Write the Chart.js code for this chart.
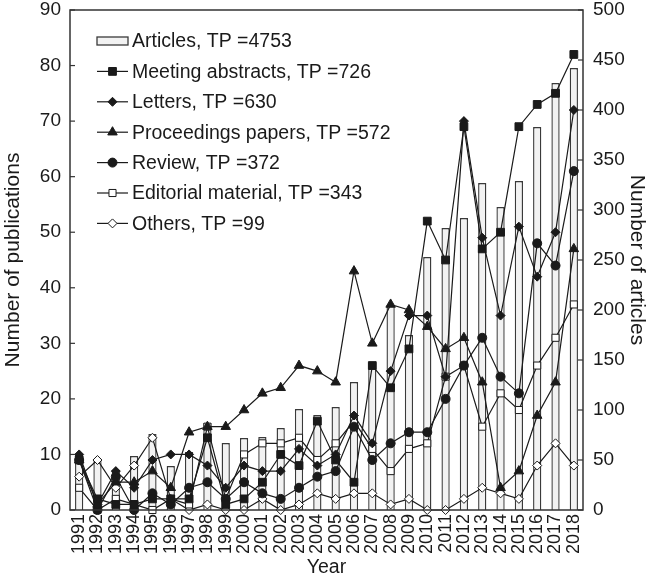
<!DOCTYPE html>
<html><head><meta charset="utf-8">
<script src="https://cdn.jsdelivr.net/npm/chart.js@4/dist/chart.umd.min.js"></script>
<style>html,body{margin:0;padding:0;background:#fff}#wrap{width:650px;height:581px;position:relative}</style>
</head><body><div id="wrap"><canvas id="c" width="650" height="581"></canvas></div>
<script>
const years = ['1991','1992','1993','1994','1995','1996','1997','1998','1999','2000','2001','2002','2003','2004','2005','2006','2007','2008','2009','2010','2011','2012','2013','2014','2015','2016','2017','2018'];
const articles    = [55,50,40,54,76,44,58,87,67,72,73,82,101,95,103,128,147,205,175,253,282,292,327,303,329,383,427,442];
const meeting     = [9,2,1,1,2,2,2,13,1,2,5,10,8,16,9,5,26,22,29,52,45,69,47,50,69,73,75,82];
const letters     = [10,1,7,4,9,10,10,8,4,8,7,7,11,8,10,17,12,25,35,35,24,70,49,35,51,42,50,72];
const proceedings = [9,1,5,5,7,4,14,15,15,18,21,22,26,25,23,43,30,37,36,33,29,31,23,4,7,17,23,47];
const review      = [9,0,6,0,3,1,4,5,2,5,3,2,4,6,7,15,9,12,14,14,20,26,31,24,21,48,44,61];
const editorial   = [4,0,2,1,0,2,1,15,2,10,12,12,13,9,12,16,11,7,11,12,24,26,15,21,18,26,31,37];
const others      = [6,9,4,8,13,2,0,1,0,0,2,0,1,3,2,3,3,1,2,0,0,2,4,3,2,8,12,8];
const seriesNames = ['Articles, TP =4753','Meeting abstracts, TP =726','Letters, TP =630','Proceedings papers, TP =572','Review, TP =372','Editorial material, TP =343','Others, TP =99'];
const leftTicks = [0,10,20,30,40,50,60,70,80,90];
const rightTicks = [0,50,100,150,200,250,300,350,400,450,500];

const FONT = "'Liberation Sans', Arial, Helvetica, sans-serif";
const INK = '#1a1a1a';

function lineDs(label, data, style, radius, filled){
  return {type:'line', label, data, yAxisID:'y', borderColor:INK, borderWidth:1.2,
    pointStyle:style, pointRadius:radius, pointBorderWidth:1, pointBorderColor:INK,
    pointBackgroundColor: filled ? INK : '#ffffff', fill:false, tension:0, clip:false, order:1};
}

function drawMarker(ctx, style, r, x, y, filled){
  ctx.save();
  ctx.beginPath();
  if(style==='rect'){ const s=Math.SQRT1_2*r; ctx.rect(x-s,y-s,2*s,2*s); }
  else if(style==='rectRot'){ ctx.moveTo(x,y-r); ctx.lineTo(x+r,y); ctx.lineTo(x,y+r); ctx.lineTo(x-r,y); ctx.closePath(); }
  else if(style==='triangle'){ ctx.moveTo(x, y-r); ctx.lineTo(x+Math.cos(Math.PI/6)*r, y+Math.sin(Math.PI/6)*r); ctx.lineTo(x-Math.cos(Math.PI/6)*r, y+Math.sin(Math.PI/6)*r); ctx.closePath(); }
  else { ctx.arc(x,y,r,0,Math.PI*2); }
  ctx.fillStyle = filled ? INK : '#fff';
  ctx.fill();
  ctx.lineWidth=1; ctx.strokeStyle=INK; ctx.stroke();
  ctx.restore();
}

const framePlugin = {
  id:'frame',
  afterDatasetsDraw(chart){
    const {ctx, chartArea:a} = chart;
    ctx.save();
    ctx.strokeStyle='#333'; ctx.lineWidth=1.5;
    ctx.strokeRect(a.left, a.top, a.right-a.left, a.bottom-a.top);
    ctx.lineWidth=1.2;
    const yl = chart.scales.y, yr = chart.scales.y2;
    leftTicks.forEach(v=>{ const py=yl.getPixelForValue(v); ctx.beginPath(); ctx.moveTo(a.left,py); ctx.lineTo(a.left+5,py); ctx.stroke(); });
    rightTicks.forEach(v=>{ const py=yr.getPixelForValue(v); ctx.beginPath(); ctx.moveTo(a.right,py); ctx.lineTo(a.right-5,py); ctx.stroke(); });
    ctx.restore();
  },
  afterDraw(chart){
    const {ctx, chartArea:a} = chart;
    const x0 = a.left + 27, x1 = a.left + 58, tx = a.left + 62;
    ctx.save();
    ctx.font = "19.5px " + FONT;
    ctx.textBaseline = 'middle';
    ctx.fillStyle = INK;
    chart.data.datasets.forEach((ds, i) => {
      const y = a.top + 31 + i*30.4;
      if(ds.type === 'bar'){
        ctx.fillStyle = ds.backgroundColor; ctx.fillRect(x0, y-4, x1-x0, 8);
        ctx.strokeStyle = ds.borderColor; ctx.lineWidth = 1.3; ctx.strokeRect(x0, y-4, x1-x0, 8);
      } else {
        ctx.strokeStyle = INK; ctx.lineWidth = 1.2;
        ctx.beginPath(); ctx.moveTo(x0, y); ctx.lineTo(x1, y); ctx.stroke();
        drawMarker(ctx, ds.pointStyle, ds.pointRadius, (x0+x1)/2, y, ds.pointBackgroundColor===INK);
      }
      ctx.fillStyle = INK;
      ctx.fillText(ds.label, tx, y+1);
    });
    ctx.restore();
  }
};

const datasets = [
  {type:'bar', label:seriesNames[0], data:articles, yAxisID:'y2', backgroundColor:'#f2f2f2', borderColor:'#3a3a3a', borderWidth:1.4, barPercentage:0.45, categoryPercentage:1, order:10},
  lineDs(seriesNames[1], meeting, 'rect', 5.5, true),
  lineDs(seriesNames[2], letters, 'rectRot', 4.5, true),
  lineDs(seriesNames[3], proceedings, 'triangle', 5.5, true),
  lineDs(seriesNames[4], review, 'circle', 4.5, true),
  lineDs(seriesNames[5], editorial, 'rect', 5, false),
  lineDs(seriesNames[6], others, 'rectRot', 4.5, false)
];

new Chart(document.getElementById('c'), {
  data:{labels:years, datasets},
  plugins:[framePlugin],
  options:{
    responsive:false, animation:false, devicePixelRatio:1,
    layout:{padding:{top:10, left:0, right:0, bottom:0}},
    plugins:{legend:{display:false}, tooltip:{enabled:false}},
    scales:{
      x:{type:'category', offset:true,
        grid:{display:false, drawTicks:false},
        border:{display:false},
        ticks:{color:INK, font:{family:FONT, size:18}, minRotation:90, maxRotation:90, padding:4, autoSkip:false},
        title:{display:true, text:'Year', color:INK, font:{family:FONT, size:19.5}, padding:{top:0,bottom:2}},
        afterFit(s){ s.height = 71; s.paddingLeft = 0; s.paddingRight = 0; }
      },
      y:{position:'left', min:0, max:90,
        grid:{display:false, drawTicks:false}, border:{display:false},
        afterBuildTicks(s){ s.ticks = leftTicks.map(v=>({value:v})); },
        ticks:{color:INK, font:{family:FONT, size:19}, padding:9},
        title:{display:true, text:'Number of publications', color:INK, font:{family:FONT, size:21}, padding:{top:1,bottom:0}},
        afterFit(s){ s.width = 70; s.paddingTop = 0; s.paddingBottom = 0; }
      },
      y2:{position:'right', min:0, max:500,
        grid:{display:false, drawTicks:false}, border:{display:false},
        afterBuildTicks(s){ s.ticks = rightTicks.map(v=>({value:v})); },
        ticks:{color:INK, font:{family:FONT, size:19}, padding:10},
        title:{display:true, text:'Number of articles', color:INK, font:{family:FONT, size:21}, padding:{top:1,bottom:0}},
        afterFit(s){ s.width = 67; s.paddingTop = 0; s.paddingBottom = 0; }
      }
    }
  }
});
</script></body></html>
